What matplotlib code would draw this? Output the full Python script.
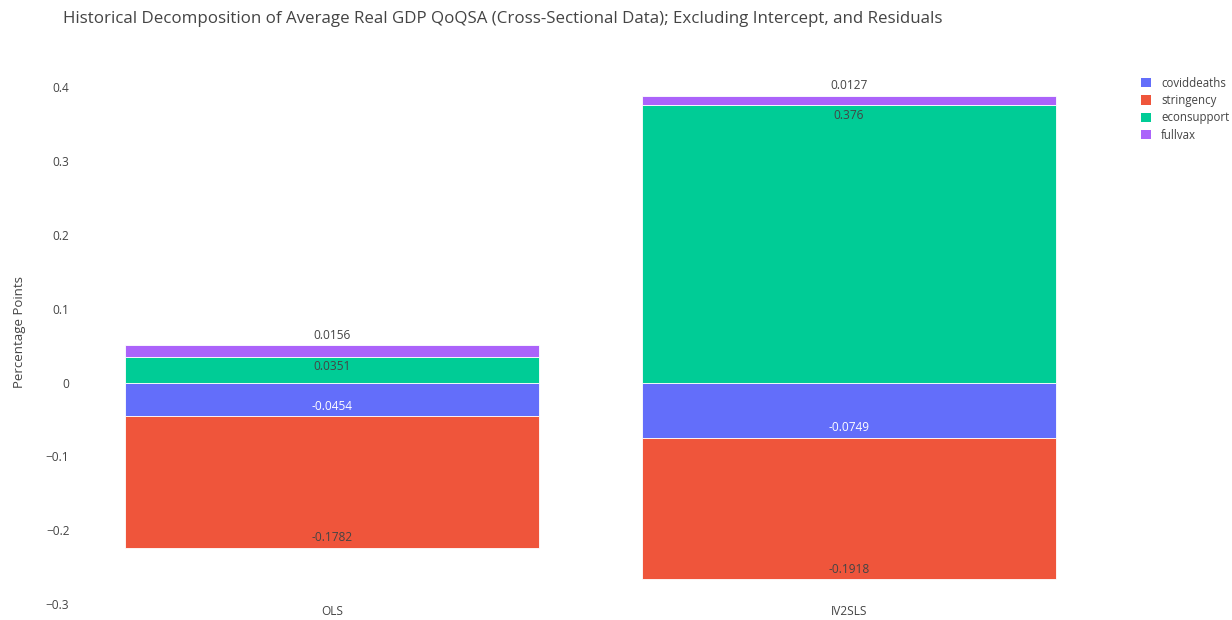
import numpy as np
import matplotlib.pyplot as plt
from matplotlib.patches import Patch
from matplotlib.ticker import FuncFormatter

plt.rcParams['font.family'] = ['Open Sans', 'DejaVu Sans']

models = ['OLS', 'IV2SLS']
series = ['coviddeaths', 'stringency', 'econsupport', 'fullvax']
coviddeaths = [-0.0454, -0.0749]
stringency = [-0.1782, -0.1918]
econsupport = [0.0351, 0.376]
fullvax = [0.0156, 0.0127]

colors = ['#636efa', '#EF553B', '#00cc96', '#ab63fa']
text_colors = ['white', '#444444', '#444444', '#444444']

fig = plt.figure(figsize=(12.32, 6.2), dpi=100)
ax = fig.add_axes([0.0597, 0.026, 0.839, 0.877])

x = np.arange(len(models))
pos_base = np.zeros(len(models))
neg_base = np.zeros(len(models))
for name, vals, col, tcol in zip(series, [coviddeaths, stringency, econsupport, fullvax], colors, text_colors):
    vals = np.array(vals)
    bottoms = np.where(vals >= 0, pos_base, neg_base)
    ax.bar(x, vals, bottom=bottoms, width=0.8, color=col, edgecolor='white', linewidth=0.6, label=name)
    for xi, v, b in zip(x, vals, bottoms):
        end = b + v
        if abs(v) < 0.025:
            # too thin, text sits outside
            ax.annotate(f'{v:g}', (xi, end), xytext=(0, 10), textcoords='offset pixels',
                        ha='center', va='center', fontsize=8.6, color='#444444')
        else:
            off = -10 if v > 0 else 10
            ax.annotate(f'{v:g}', (xi, end), xytext=(0, off), textcoords='offset pixels',
                        ha='center', va='center', fontsize=8.6, color=tcol)
    pos_base = pos_base + np.where(vals >= 0, vals, 0)
    neg_base = neg_base + np.where(vals < 0, vals, 0)

ax.set_xlim(-0.5, 1.5)
ax.set_ylim(-0.3, 0.437)
ax.set_xticks(x)
ax.set_xticklabels(models)
ax.set_yticks([-0.3, -0.2, -0.1, 0, 0.1, 0.2, 0.3, 0.4])
ax.yaxis.set_major_formatter(FuncFormatter(lambda v, p: f'{v:g}'.replace('-', '\u2212')))
ax.tick_params(length=0, labelsize=8.6, colors='#444444')
ax.tick_params(axis='y', pad=3)
ax.tick_params(axis='x', pad=1)
for s in ax.spines.values():
    s.set_visible(False)
ax.set_ylabel('Percentage Points', fontsize=9.5, color='#444444', labelpad=14)

fig.text(0.051, 0.97, 'Historical Decomposition of Average Real GDP QoQSA (Cross-Sectional Data); Excluding Intercept, and Residuals',
         fontsize=12.2, color='#444444', va='center', ha='left')

handles = [Patch(facecolor=c, label=n) for n, c in zip(series, colors)]
fig.legend(handles=handles, loc='upper left', bbox_to_anchor=(0.922, 0.884), frameon=False,
           fontsize=8.3, labelcolor='#444444', handlelength=0.9, handleheight=0.9,
           handletextpad=0.9, labelspacing=0.38, borderaxespad=0)

fig.savefig('out.png', dpi=100)
